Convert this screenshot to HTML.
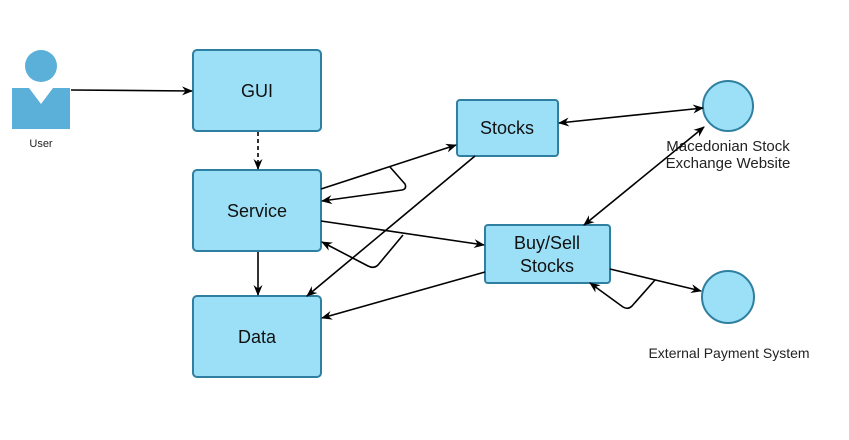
<!DOCTYPE html>
<html><head><style>body{margin:0;background:#fff}svg{display:block}</style></head><body>
<svg width="849" height="440" viewBox="0 0 849 440" xmlns="http://www.w3.org/2000/svg" font-family="Liberation Sans, sans-serif">
<defs><marker id="a" markerWidth="12" markerHeight="12" refX="10" refY="6" orient="auto" markerUnits="userSpaceOnUse"><path d="M0,1.5 L11,6 L0,10.5 L3.5,6 Z" fill="#000"/></marker>
<marker id="s" markerWidth="12" markerHeight="12" refX="1" refY="6" orient="auto" markerUnits="userSpaceOnUse"><path d="M11,1.5 L0,6 L11,10.5 L7.5,6 Z" fill="#000"/></marker></defs>
<rect width="849" height="440" fill="#fff"/>
<circle cx="41" cy="66" r="16" fill="#5AB0D8"/>
<path d="M12,88 L29,88 L41,104 L53,88 L70,88 L70,129 L12,129 Z" fill="#5AB0D8"/>
<text x="41" y="147" font-size="11" text-anchor="middle" fill="#222">User</text>
<g fill="#9CE0F7" stroke="#2F7FA0" stroke-width="2">
<rect x="193" y="50" width="128" height="81" rx="4"/>
<rect x="193" y="170" width="128" height="81" rx="4"/>
<rect x="193" y="296" width="128" height="81" rx="4"/>
<rect x="457" y="100" width="101" height="56" rx="3"/>
<rect x="485" y="225" width="125" height="58" rx="3"/>
<circle cx="728" cy="106" r="25"/>
<circle cx="728" cy="297" r="26"/>
</g>
<g font-size="18" text-anchor="middle" fill="#111">
<text x="257" y="97">GUI</text>
<text x="257" y="217">Service</text>
<text x="257" y="343">Data</text>
<text x="507" y="134">Stocks</text>
<text x="547" y="249">Buy/Sell</text>
<text x="547" y="272">Stocks</text>
</g>
<g text-anchor="middle" fill="#222">
<text x="728" y="151" font-size="15">Macedonian Stock</text>
<text x="728" y="168" font-size="15">Exchange Website</text>
<text x="729" y="358" font-size="14">External Payment System</text>
</g>
<g stroke="#000" stroke-width="1.6" fill="none">
<line x1="71" y1="90" x2="192" y2="91" marker-end="url(#a)"/>
<line x1="258" y1="132" x2="258" y2="169" stroke-dasharray="4,3" marker-end="url(#a)"/>
<line x1="258" y1="252" x2="258" y2="295" marker-end="url(#a)"/>
<line x1="321" y1="189" x2="456" y2="145" marker-end="url(#a)"/>
<path d="M390,167 L405,184 Q407,189 402,190 L322,201" marker-end="url(#a)"/>
<line x1="321" y1="221" x2="484" y2="245" marker-end="url(#a)"/>
<path d="M403,235 L378,265 Q374,269 368,266 L322,242" marker-end="url(#a)"/>
<line x1="475" y1="156" x2="307" y2="296" marker-end="url(#a)"/>
<line x1="485" y1="272" x2="322" y2="318" marker-end="url(#a)"/>
<line x1="559" y1="123" x2="703" y2="108" marker-start="url(#s)" marker-end="url(#a)"/>
<line x1="584" y1="225" x2="704" y2="127" marker-start="url(#s)" marker-end="url(#a)"/>
<line x1="610" y1="269" x2="701" y2="291" marker-end="url(#a)"/>
<path d="M655,280 L632,306 Q628,310 623,307 L590,283" marker-end="url(#a)"/>
</g>
</svg>
</body></html>
